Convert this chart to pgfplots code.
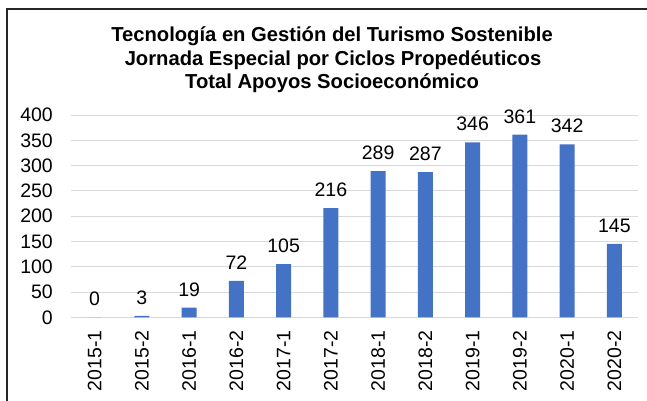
\documentclass[border=0pt]{standalone}
\usepackage{fontspec}
\setmainfont{Liberation Sans}
\usepackage{pgfplots}
\pgfplotsset{compat=1.18}
\definecolor{barblue}{HTML}{4472C4}
\definecolor{gridgray}{HTML}{D9D9D9}
\begin{document}
\begin{tikzpicture}[x=1pt,y=1pt]
\useasboundingbox (0,0) rectangle (647,400);
\fill[white] (0,0) rectangle (647,400);
\draw[black!85,line width=1.3pt] (7,-20) -- (7,391) -- (680,391);
\begin{scope}[every node/.style={font=\fontsize{20.2}{22}\selectfont\bfseries,anchor=base}]
\node at (332,358.3) {Tecnología en Gestión del Turismo Sostenible};
\node at (333,335) {Jornada Especial por Ciclos Propedéuticos};
\node at (332,311.6) {Total Apoyos Socioeconómico};
\end{scope}
\begin{axis}[at={(71pt,82.7pt)},anchor=south west,scale only axis,
  width=567pt,height=202.3pt,
  ybar,bar width=15pt,
  xmin=-0.5,xmax=11.5,ymin=0,ymax=400,
  ytick={0,50,...,400},xtick={0,...,11},
  xticklabels={2015-1,2015-2,2016-1,2016-2,2017-1,2017-2,2018-1,2018-2,2019-1,2019-2,2020-1,2020-2},
  axis line style={draw=none},
  ymajorgrids,grid style={gridgray,line width=0.9pt},
  major tick length=0pt,
  clip=false,
  /pgf/number format/assume math mode=true,
  tick label style={font=\fontsize{19.5}{20}\selectfont,inner sep=0pt},
  yticklabel style={anchor=east},
  yticklabel shift=18pt,
  xticklabel style={rotate=90,anchor=east},
  xticklabel shift=13pt,
  nodes near coords,
  every node near coord/.append style={font=\fontsize{19.5}{20}\selectfont,inner sep=0pt,anchor=south,yshift=11pt},
]
\addplot[fill=barblue,draw=none] coordinates {
(0,0) (1,3) (2,19) (3,72) (4,105) (5,216) (6,289) (7,287) (8,346) (9,361) (10,342) (11,145)};
\end{axis}
\end{tikzpicture}
\end{document}
